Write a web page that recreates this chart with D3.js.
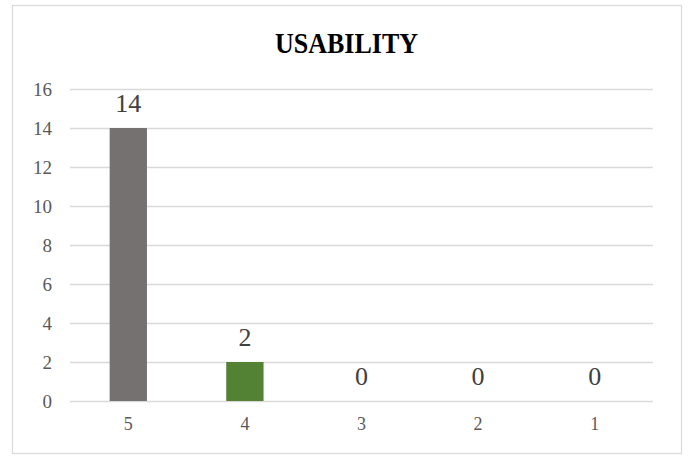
<!DOCTYPE html>
<html>
<head>
<meta charset="utf-8">
<script src="https://cdn.jsdelivr.net/npm/d3@7"></script>
<style>
  html, body { margin: 0; padding: 0; background: #fff; }
  svg { display: block; }
</style>
</head>
<body>
<svg id="chart" width="689" height="457"></svg>
<script>
// Ratings and how many responses each received
const categories = ["5", "4", "3", "2", "1"];
const counts = [14, 2, 0, 0, 0];
const barColors = ["#767171", "#548235", "#4472c4", "#ed7d31", "#a5a5a5"];
const yTicks = [0, 2, 4, 6, 8, 10, 12, 14, 16];
const title = "USABILITY";

const FONT = '"Liberation Serif"';
const svg = d3.select("#chart");
const plot = { left: 70, right: 653, top: 89, bottom: 401 };

// Chart frame
svg.append("rect")
  .attr("x", 12.5).attr("y", 5.5)
  .attr("width", 669).attr("height", 448)
  .attr("fill", "#fff")
  .attr("stroke", "#d9d9d9").attr("stroke-width", 1.2);

// Title
svg.append("text")
  .attr("x", 346.5).attr("y", 53)
  .attr("text-anchor", "middle")
  .style("font-family", FONT)
  .style("font-weight", "bold")
  .style("font-size", "29px")
  .attr("textLength", 143)
  .attr("lengthAdjust", "spacingAndGlyphs")
  .attr("fill", "#000")
  .text(title);

const x = d3.scaleBand()
  .domain(categories)
  .range([plot.left, plot.right])
  .paddingInner(0.68)
  .paddingOuter(0.34);

const y = d3.scaleLinear()
  .domain([0, 16])
  .range([plot.bottom, plot.top]);

// Horizontal gridlines with value labels on the left
const yAxis = d3.axisLeft(y)
  .tickValues(yTicks)
  .tickSize(-(plot.right - plot.left))
  .tickPadding(18);

const gy = svg.append("g")
  .attr("transform", `translate(${plot.left},0)`)
  .call(yAxis);
gy.select(".domain").remove();
gy.selectAll(".tick line")
  .attr("stroke", "#d9d9d9")
  .attr("stroke-width", 1.5);
gy.selectAll(".tick text")
  .style("font-family", FONT)
  .style("font-size", "19px")
  .attr("fill", "#595959");

// Category labels under the bars
const xAxis = d3.axisBottom(x).tickSize(0).tickPadding(16);
const gx = svg.append("g")
  .attr("transform", `translate(0,${plot.bottom})`)
  .call(xAxis);
gx.select(".domain").remove();
gx.selectAll(".tick text")
  .style("font-family", FONT)
  .style("font-size", "18px")
  .attr("fill", "#595959");

const data = categories.map((c, i) => ({ cat: c, value: counts[i], color: barColors[i] }));

// Bars
svg.append("g")
  .selectAll("rect")
  .data(data)
  .join("rect")
  .attr("x", d => x(d.cat))
  .attr("y", d => y(d.value))
  .attr("width", x.bandwidth())
  .attr("height", d => y(0) - y(d.value))
  .attr("fill", d => d.color);

// Value labels above each bar
svg.append("g")
  .selectAll("text")
  .data(data)
  .join("text")
  .attr("x", d => x(d.cat) + x.bandwidth() / 2)
  .attr("y", d => y(d.value) - 16)
  .attr("text-anchor", "middle")
  .style("font-family", FONT)
  .style("font-size", "26px")
  .attr("fill", "#404040")
  .text(d => d.value);
</script>
</body>
</html>
